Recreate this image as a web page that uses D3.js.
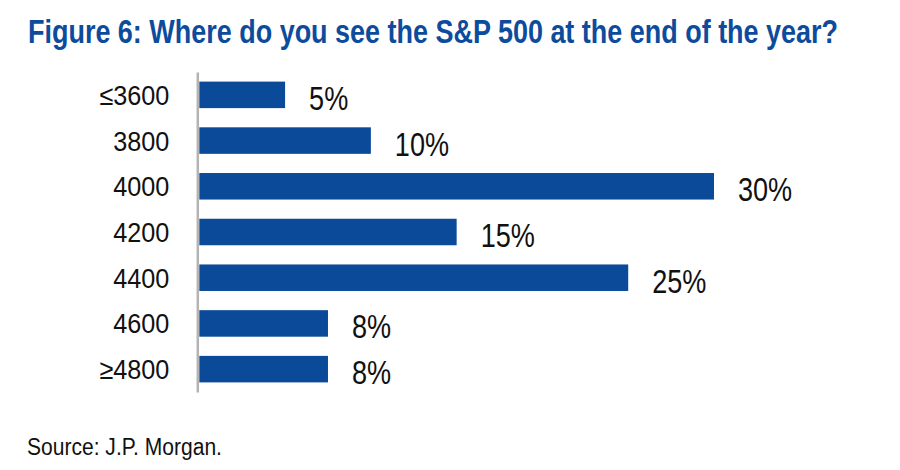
<!DOCTYPE html>
<html>
<head>
<meta charset="utf-8">
<script src="https://cdn.jsdelivr.net/npm/d3@7"></script>
<style>
  html, body { margin: 0; padding: 0; background: #fff; }
  svg { display: block; }
  text { font-family: "Liberation Sans", Arial, sans-serif; }
</style>
</head>
<body>
<svg id="chart" width="900" height="470"></svg>
<script>
const titleText = "Figure 6: Where do you see the S&P 500 at the end of the year?";
const sourceText = "Source: J.P. Morgan.";
const categories = ["≤3600", "3800", "4000", "4200", "4400", "4600", "≥4800"];
const values = [5, 10, 30, 15, 25, 7.5, 7.5];
const valueLabels = ["5%", "10%", "30%", "15%", "25%", "8%", "8%"];

const svg = d3.select("#chart");
const blue = "#0b4a99";

// condense text horizontally (emulates a narrow typeface)
function condense(sel, f) {
  sel.each(function () {
    const w = this.getComputedTextLength();
    d3.select(this).attr("textLength", w * f).attr("lengthAdjust", "spacingAndGlyphs");
  });
}

const x = d3.scaleLinear().domain([0, 30]).range([199.3, 714]);
const y = d3.scaleBand().domain(categories).range([72, 392]).paddingInner(0.42).paddingOuter(0.21);

const title = svg.append("text")
  .attr("x", 28).attr("y", 43)
  .attr("font-size", 33).attr("font-weight", "bold")
  .attr("fill", "#0d4c9c")
  .text(titleText);
title.attr("textLength", 810).attr("lengthAdjust", "spacingAndGlyphs");

svg.selectAll("rect.bar").data(categories).enter().append("rect")
  .attr("class", "bar")
  .attr("x", x(0))
  .attr("y", d => y(d))
  .attr("width", (d, i) => x(values[i]) - x(0))
  .attr("height", y.bandwidth())
  .attr("fill", blue);

// category axis
const axis = svg.append("g").attr("transform", `translate(${x(0) - 2},0)`)
  .call(d3.axisLeft(y).tickSize(0).tickPadding(28));
axis.attr("font-family", null);
axis.select(".domain").attr("stroke", "#b4b4b4").attr("stroke-width", 2.5);
axis.selectAll("text")
  .attr("font-size", 28).attr("fill", "#111")
  .attr("dy", null)
  .attr("y", 10)
  .call(condense, 0.9);

svg.selectAll("text.val").data(categories).enter().append("text")
  .attr("class", "val")
  .attr("x", (d, i) => x(values[i]) + 24)
  .attr("y", d => y(d) + y.bandwidth() / 2 + 15)
  .attr("font-size", 33).attr("fill", "#111")
  .text((d, i) => valueLabels[i])
  .call(condense, 0.82);

svg.append("text")
  .attr("x", 27).attr("y", 455)
  .attr("font-size", 23).attr("fill", "#111")
  .text(sourceText)
  .call(condense, 0.915);
</script>
</body>
</html>
